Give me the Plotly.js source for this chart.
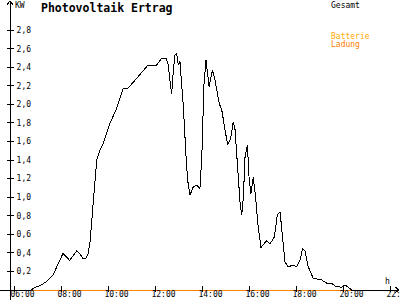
<!DOCTYPE html>
<html>
<head>
<meta charset="utf-8">
<script src="https://cdn.plot.ly/plotly-3.0.1.min.js"></script>
<style>
html,body{margin:0;padding:0;background:#fff;}
#chart{width:400px;height:300px;}
.scatterlayer path, .layer-above path, .layer-below path {shape-rendering: crispEdges;}
</style>
</head>
<body>
<div id="chart"></div>
<script>
// Gesamt power (kW) by time of day (hours)
const gesamtTime = [6.70,6.87,7.09,7.34,7.64,7.85,7.94,8.06,8.22,8.34,8.49,8.64,8.79,8.93,9.04,9.13,9.21,9.31,9.40,9.50,9.61,9.78,10.06,10.35,10.63,10.82,11.20,11.65,12.02,12.26,12.45,12.54,12.62,12.69,12.76,12.83,12.90,12.97,13.04,13.18,13.32,13.38,13.47,13.61,13.75,13.89,13.97,14.06,14.15,14.21,14.28,14.42,14.53,14.71,14.82,14.96,15.07,15.20,15.31,15.38,15.48,15.60,15.67,15.74,15.81,15.91,15.98,16.06,16.16,16.26,16.35,16.49,16.73,16.87,17.06,17.18,17.30,17.40,17.51,17.65,17.84,18.01,18.15,18.26,18.36,18.50,18.71,19.07,19.28,19.50,19.64,19.92,20.06,20.20,20.32,20.36];
const gesamt = [0,0.027,0.048,0.086,0.162,0.280,0.323,0.393,0.356,0.318,0.366,0.420,0.388,0.334,0.345,0.388,0.506,0.830,1.153,1.401,1.490,1.581,1.796,1.958,2.173,2.173,2.281,2.414,2.414,2.497,2.497,2.425,2.245,2.112,2.371,2.532,2.551,2.425,2.460,1.994,1.347,1.164,1.024,1.113,1.131,1.094,1.436,2.209,2.478,2.371,2.191,2.371,2.263,2.012,1.940,1.724,1.563,1.635,1.814,1.742,1.329,0.934,0.808,1.005,1.436,1.563,1.221,1.034,1.214,1.005,0.719,0.458,0.533,0.496,0.571,0.808,0.844,0.611,0.302,0.248,0.269,0.253,0.323,0.449,0.420,0.251,0.126,0.108,0.075,0.070,0.043,0.029,0.054,0.029,0.011,0];
// Batterie Ladung (kW)
const ladungTime = [6.70, 20.32];
const ladung = [0, 0];
// Axis ticks
const xTickVals = [6,8,10,12,14,16,18,20,22];
const xTickText = ['06:00','08:00','10:00','12:00','14:00','16:00','18:00','20:00','22:00'];
const yTickVals = [0.2,0.4,0.6,0.8,1.0,1.2,1.4,1.6,1.8,2.0,2.2,2.4,2.6,2.8];
const yTickText = ['0,2','0,4','0,6','0,8','1,0','1,2','1,4','1,6','1,8','2,0','2,2','2,4','2,6','2,8'];

const L = 10, T = 5, W = 388, H = 287; // plot area in px (bottom at 292)
const Y0 = 290; // pixel row of value 0
const KPX = 92.8; // px per kW
const px = v => (v - L) / W;
const py = v => (T + H - v) / H;
const mono = 'DejaVu Sans Mono, monospace';
const xRange = [6 - 4.5/23.5, 6 + (398 - 14.5)/23.5];
const yRange = [-(T + H - Y0)/KPX, (Y0 - T)/KPX];
const tf = {family: mono, size: 8, color: '#000'};

const traces = [
  {x: gesamtTime, y: gesamt, type: 'scatter', mode: 'lines', line: {color: '#000', width: 1}, hoverinfo: 'skip'},
  {x: ladungTime, y: ladung, type: 'scatter', mode: 'lines', line: {color: '#ff8000', width: 1}, hoverinfo: 'skip'},
  {x: [], y: [], xaxis: 'x2', yaxis: 'y2', type: 'scatter', mode: 'lines', hoverinfo: 'skip'}
];

const ln = (x0,y0,x1,y1,c) => ({type:'line', xref:'paper', yref:'paper', x0:px(x0), y0:py(y0), x1:px(x1), y1:py(y1), line:{color:c||'#000', width:1}, layer:'below'});

const layout = {
  width: 400, height: 300,
  margin: {l: L, r: 400 - L - W, t: T, b: 300 - T - H, pad: 0},
  paper_bgcolor: '#fff', plot_bgcolor: '#fff',
  showlegend: false,
  font: tf,
  xaxis: {range: xRange, tickmode: 'array', tickvals: xTickVals, ticktext: xTickText,
    anchor: 'free', position: py(288), side: 'bottom',
    ticks: '', showgrid: false, zeroline: false,
    showline: false, ticklabelshift: 8, ticklabelstandoff: 0, ticklabeloverflow: 'allow',
    tickfont: tf, fixedrange: true},
  yaxis: {range: yRange, tickmode: 'array', tickvals: yTickVals, ticktext: yTickText,
    anchor: 'free', position: 0, side: 'right',
    ticks: 'outside', ticklen: 3, tickwidth: 1, tickcolor: '#000', showgrid: false, zeroline: false,
    showline: false, ticklabelstandoff: 1, tickfont: tf, fixedrange: true},
  xaxis2: {overlaying: 'x', range: xRange, tickmode: 'array', tickvals: xTickVals, showticklabels: false,
    anchor: 'free', position: py(294), side: 'bottom',
    ticks: 'inside', ticklen: 6, tickcolor: '#000', showgrid: false, zeroline: false, showline: false, fixedrange: true},
  yaxis2: {overlaying: 'y', range: yRange, tickmode: 'array', tickvals: yTickVals, showticklabels: false,
    anchor: 'free', position: 0, side: 'left',
    ticks: 'outside', ticklen: 3, tickcolor: '#000', showgrid: false, zeroline: false, showline: false, fixedrange: true},
  shapes: [
    ln(0, 290, 399, 290),
    ln(10, 300, 10, 1),
    ln(10, 1, 7, 5), ln(10, 1, 13, 5),
    ln(399, 290, 395, 287), ln(399, 290, 395, 293)
  ],
  annotations: [
    {text: '<b>Photovoltaik Ertrag</b>', xref: 'paper', yref: 'paper', x: px(39), y: py(8), xanchor: 'left', yanchor: 'middle', showarrow: false, font: {family: mono, size: 11.5, color: '#000'}},
    {text: 'KW', xref: 'paper', yref: 'paper', x: px(13), y: py(5), xanchor: 'left', yanchor: 'middle', showarrow: false, font: tf},
    {text: 'Gesamt', xref: 'paper', yref: 'paper', x: px(329), y: py(5), xanchor: 'left', yanchor: 'middle', showarrow: false, font: tf},
    {text: 'Batterie', xref: 'paper', yref: 'paper', x: px(329), y: py(36), xanchor: 'left', yanchor: 'middle', showarrow: false, font: {family: mono, size: 8, color: '#ffaa00'}},
    {text: 'Ladung', xref: 'paper', yref: 'paper', x: px(329), y: py(45), xanchor: 'left', yanchor: 'middle', showarrow: false, font: {family: mono, size: 8, color: '#ff8000'}},
    {text: 'h', xref: 'paper', yref: 'paper', x: px(387), y: py(281), xanchor: 'center', yanchor: 'middle', showarrow: false, font: tf}
  ]
};

Plotly.newPlot('chart', traces, layout, {staticPlot: true, displayModeBar: false});
</script>
</body>
</html>
